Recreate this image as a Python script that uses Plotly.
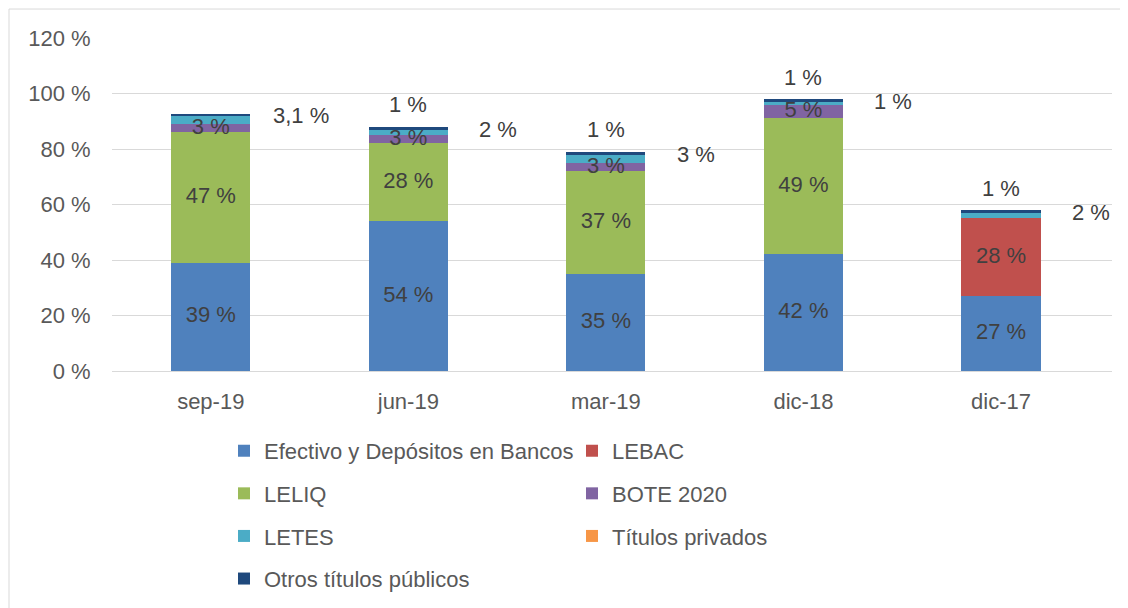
import numpy as np
import plotly.graph_objects as go

categories = ["sep-19", "jun-19", "mar-19", "dic-18", "dic-17"]

efectivo = [39, 54, 35, 42, 27]
lebac = [0, 0, 0, 0, 28]
leliq = [47, 28, 37, 49, 0]
bote = [3, 3, 3, 5, 0]
letes = [3.1, 2, 3, 1, 2]
privados = [0, 0, 0, 0, 0]
otros = [0.3, 1, 1, 1, 1]

y_ticks = [0, 20, 40, 60, 80, 100, 120]

series = [
    ("Efectivo y Depósitos en Bancos", efectivo, "#4F81BD"),
    ("LEBAC", lebac, "#C0504D"),
    ("LELIQ", leliq, "#9BBB59"),
    ("BOTE 2020", bote, "#8064A2"),
    ("LETES", letes, "#4BACC6"),
    ("Títulos privados", privados, "#F79646"),
    ("Otros títulos públicos", otros, "#1F497D"),
]

FONT = "Liberation Sans, Arial, sans-serif"
TXT = "#404040"
AX = "#595959"
FS = 22


def fmt(v):
    return ("%g" % v).replace(".", ",") + " %"


fig = go.Figure()
for i, (name, vals, col) in enumerate(series):
    fig.add_trace(go.Bar(
        x=categories, y=vals, name=name, marker_color=col,
        marker_line_width=0, legendgroup=f"g{i}", hoverinfo="skip",
    ))

# cumulative bases for label placement
cum = np.zeros(len(categories))
bases = {}
values = {}
for name, vals, col in series:
    v = np.array(vals, dtype=float)
    bases[name] = cum.copy()
    values[name] = v
    cum = cum + v

# inside labels (drawn above all bars)
for name in ["Efectivo y Depósitos en Bancos", "LEBAC", "LELIQ", "BOTE 2020"]:
    vals = values[name]
    mask = vals > 0
    fig.add_trace(go.Scatter(
        x=[c for c, m in zip(categories, mask) if m],
        y=(bases[name] + vals / 2)[mask],
        text=[fmt(v) for v in vals[mask]],
        mode="text", textfont=dict(family=FONT, size=FS, color=TXT),
        showlegend=False, hoverinfo="skip",
    ))

# LETES labels to the right
letes_top = bases["LETES"] + values["LETES"]
for c, yv, v in zip(categories, letes_top, letes):
    fig.add_annotation(x=c, y=yv, text=fmt(v), showarrow=False, xshift=90,
                       font=dict(family=FONT, size=FS, color=TXT))

# Otros labels above
for c, yv, v in zip(categories, cum, otros):
    if v >= 0.5:
        fig.add_annotation(x=c, y=yv, text=fmt(v), showarrow=False, yshift=22,
                           font=dict(family=FONT, size=FS, color=TXT))

fig.add_shape(type="rect", xref="paper", yref="paper", x0=-0.103, x1=1.2,
              y0=-1.0, y1=1.087, line=dict(color="#D9D9D9", width=1),
              fillcolor="rgba(0,0,0,0)", layer="below")

fig.update_layout(
    width=1128, height=608,
    margin=dict(l=104, r=24, t=30, b=245, autoexpand=False),
    barmode="stack", bargap=0.6,
    plot_bgcolor="white", paper_bgcolor="white",
    font=dict(family=FONT, size=FS, color=AX),
    xaxis=dict(showgrid=False, showline=False, ticks="outside", ticklen=11,
               tickcolor="rgba(0,0,0,0)", tickfont=dict(size=FS, color=AX)),
    yaxis=dict(range=[0, 120], tickvals=y_ticks,
               ticktext=[f"{t} %" for t in y_ticks],
               showgrid=True, gridcolor="#D9D9D9", gridwidth=1,
               zeroline=True, zerolinecolor="#D9D9D9", zerolinewidth=1,
               showline=False, ticks="outside", ticklen=16,
               tickcolor="rgba(0,0,0,0)", tickfont=dict(size=FS, color=AX)),
    legend=dict(orientation="h", x=0.112, y=-0.177, xanchor="left", yanchor="top",
                traceorder="grouped", tracegroupgap=11, entrywidth=303,
                font=dict(family=FONT, size=FS, color=AX), bgcolor="rgba(0,0,0,0)"),
    showlegend=True,
)

fig.write_html("out.html")
